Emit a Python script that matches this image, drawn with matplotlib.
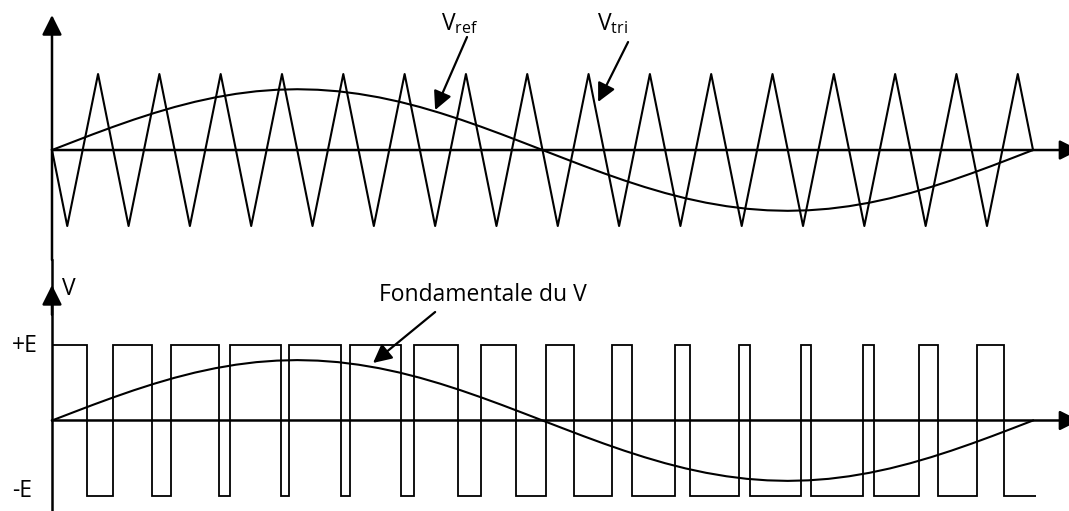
import numpy as np
import matplotlib.pyplot as plt

plt.rcParams['font.family'] = ['Open Sans', 'DejaVu Sans']
plt.rcParams['mathtext.fontset'] = 'custom'
plt.rcParams['mathtext.rm'] = 'Open Sans'

# angles in degrees (one period of the reference = 360)
# carrier triangle: troughs and peaks
tri_troughs = [5.6, 28.1, 50.6, 73.1, 95.6, 118.1, 140.6, 163.1,
               185.6, 208.1, 230.6, 253.1, 275.6, 298.1, 320.6, 343.1]
tri_peaks = [16.9, 39.4, 61.9, 84.4, 106.9, 129.4, 151.9, 174.4,
             196.9, 219.4, 241.9, 264.4, 286.9, 309.4, 331.9, 354.4]

# reference sine (= fundamental of V), every 7.5 deg
ref_phase = [0, 7.5, 15, 22.5, 30, 37.5, 45, 52.5, 60, 67.5, 75, 82.5,
             90, 97.5, 105, 112.5, 120, 127.5, 135, 142.5, 150, 157.5, 165, 172.5,
             180, 187.5, 195, 202.5, 210, 217.5, 225, 232.5, 240, 247.5, 255, 262.5,
             270, 277.5, 285, 292.5, 300, 307.5, 315, 322.5, 330, 337.5, 345, 352.5, 360]
ref_vals = [0, 0.104, 0.207, 0.306, 0.400, 0.487, 0.566, 0.635, 0.693, 0.739, 0.773, 0.793,
            0.800, 0.793, 0.773, 0.739, 0.693, 0.635, 0.566, 0.487, 0.400, 0.306, 0.207, 0.104,
            0, -0.104, -0.207, -0.306, -0.400, -0.487, -0.566, -0.635, -0.693, -0.739, -0.773, -0.793,
            -0.800, -0.793, -0.773, -0.739, -0.693, -0.635, -0.566, -0.487, -0.400, -0.306, -0.207, -0.104, 0]

# PWM output: switching instants and levels (+E = 1, -E = -1)
pwm_edges = [0, 12.8, 22.4, 36.7, 43.7, 61.3, 65.3, 84.0, 87.0, 106.1, 109.4,
             128.1, 132.8, 149.0, 157.4, 170.3, 181.3, 191.6, 205.5, 212.8, 228.6,
             234.1, 252.1, 256.1, 274.9, 278.5, 297.6, 301.7, 318.2, 325.1, 339.4,
             349.4, 361.1]
pwm_levels = [1, -1, 1, -1, 1, -1, 1, -1, 1, -1, 1, -1, 1, -1, 1, -1,
              1, -1, 1, -1, 1, -1, 1, -1, 1, -1, 1, -1, 1, -1, 1, -1]

# build triangle vertex list
tri_x = [0]
tri_y = [0]
for tr, pk in zip(tri_troughs, tri_peaks):
    tri_x += [tr, pk]
    tri_y += [-1, 1]
tri_x.append(360)
tri_y.append(0)

lw = 1.5
fs = 16.5
ax_arrow = dict(arrowstyle='-|>', color='black', lw=1.8, mutation_scale=30,
                shrinkA=0, shrinkB=0)
lbl_arrow = dict(arrowstyle='-|>', color='black', lw=1.6, mutation_scale=28,
                 shrinkA=0, shrinkB=0)

fig = plt.figure(figsize=(10.69, 5.11), dpi=100)

#%% top : Vref and Vtri
ax1 = fig.add_axes([0, 0.4912, 1, 0.5088])
ax1.set_xlim(-19.08, 373.2)
ax1.set_ylim(-1.447, 1.974)
ax1.axis('off')

ax1.plot(tri_x, tri_y, color='black', lw=lw)
ax1.plot(ref_phase, ref_vals, color='black', lw=lw)

ax1.annotate('', xy=(0, 1.776), xytext=(0, -1.447), arrowprops=ax_arrow,
             annotation_clip=False)
ax1.annotate('', xy=(377, 0), xytext=(0, 0), arrowprops=ax_arrow,
             annotation_clip=False)

ax1.text(142.8, 1.579, r'V$_{\mathrm{ref}}$', fontsize=fs, va='baseline')
ax1.text(200.0, 1.579, r'V$_{\mathrm{tri}}$', fontsize=fs, va='baseline')
ax1.annotate('', xy=(140.6, 0.526), xytext=(152.3, 1.487), arrowprops=lbl_arrow)
ax1.annotate('', xy=(200.4, 0.632), xytext=(211.4, 1.421), arrowprops=lbl_arrow)

#%% bottom : PWM output V
ax2 = fig.add_axes([0, 0, 1, 0.4912])
ax2.set_xlim(-19.08, 373.2)
ax2.set_ylim(-1.199, 2.126)
ax2.axis('off')

ax2.stairs(pwm_levels, pwm_edges, baseline=None, color='black', lw=1.3)
ax2.plot(ref_phase, ref_vals, color='black', lw=lw)

ax2.plot([0, 0], [-1.199, 2.126], color='black', lw=1.8, clip_on=False)
ax2.annotate('', xy=(0, 1.795), xytext=(0, 1.4), arrowprops=ax_arrow,
             annotation_clip=False)
ax2.annotate('', xy=(377, 0), xytext=(0, 0), arrowprops=ax_arrow,
             annotation_clip=False)

ax2.text(3.7, 1.662, 'V', fontsize=fs, va='baseline')
ax2.text(-14.7, 0.907, '+E', fontsize=fs, va='baseline')
ax2.text(-14.7, -1.013, '-E', fontsize=fs, va='baseline')
ax2.text(120.0, 1.583, 'Fondamentale du V', fontsize=fs, va='baseline')
ax2.annotate('', xy=(117.8, 0.762), xytext=(140.6, 1.437), arrowprops=lbl_arrow)

plt.savefig('out.png', dpi=100)
